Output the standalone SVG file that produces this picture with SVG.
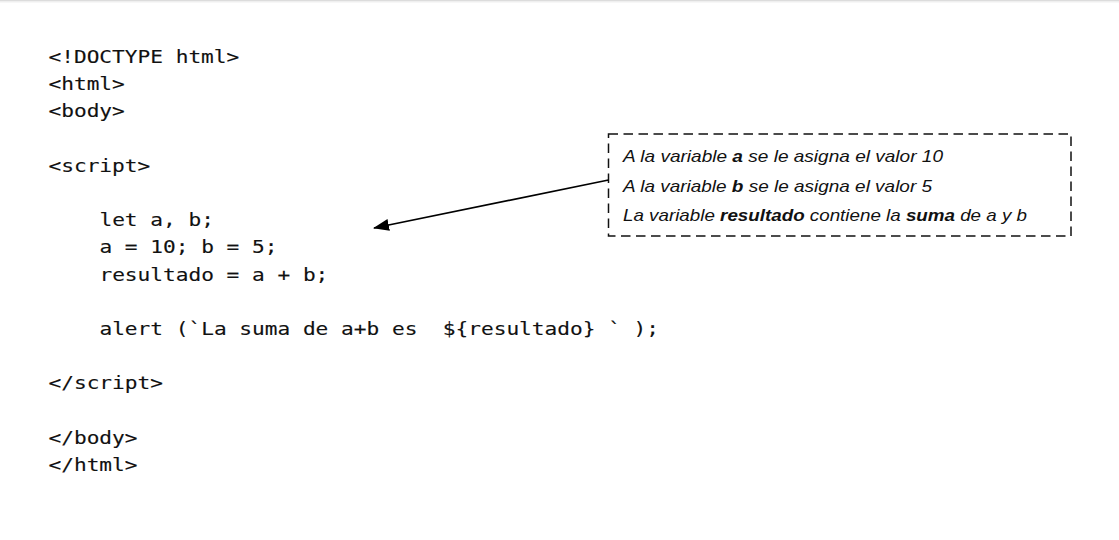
<svg xmlns="http://www.w3.org/2000/svg" width="1119" height="540" viewBox="0 0 1119 540">
<defs>
<style>
.code{font-family:"DejaVu Sans Mono","Liberation Mono",monospace;font-size:17.5px;fill:#111;stroke:#111;stroke-width:0.12px;}
.note{font-family:"Liberation Sans","Open Sans",sans-serif;font-size:17px;font-style:italic;fill:#111;}
.note .b{font-weight:bold;}
</style>
<marker id="ah" markerWidth="16" markerHeight="12" refX="15" refY="6" orient="auto" markerUnits="userSpaceOnUse">
<path d="M0,0 L16,6 L0,12 Z" fill="#000"/>
</marker>
</defs>
<rect x="0" y="0" width="1119" height="540" fill="#fff"/>
<rect x="0" y="0" width="1119" height="1" fill="#dcdcdc"/>
<rect x="0" y="1" width="1119" height="1.5" fill="#efefef"/>
<g id="code" transform="translate(48.5,0) scale(1.2081,1)">
<text class="code" x="0" y="63">&lt;!DOCTYPE html&gt;</text>
<text class="code" x="0" y="90.2">&lt;html&gt;</text>
<text class="code" x="0" y="117.4">&lt;body&gt;</text>
<text class="code" x="0" y="171.8">&lt;script&gt;</text>
<text class="code" x="42.15" y="226.2">let a, b;</text>
<text class="code" x="42.15" y="253.4">a = 10; b = 5;</text>
<text class="code" x="42.15" y="280.6">resultado = a + b;</text>
<text class="code" x="42.15" y="335" xml:space="preserve">alert (`La suma de a+b es  ${resultado} ` );</text>
<text class="code" x="0" y="389.4">&lt;/script&gt;</text>
<text class="code" x="0" y="443.8">&lt;/body&gt;</text>
<text class="code" x="0" y="471">&lt;/html&gt;</text>
</g>
<g id="note">
<rect x="608.5" y="134" width="462.5" height="102" fill="none" stroke="#111" stroke-width="1.5" stroke-dasharray="9.5 5.5"/>
<text class="note" x="623" y="162.3" textLength="320" lengthAdjust="spacingAndGlyphs">A la variable <tspan class="b">a</tspan> se le asigna el valor 10</text>
<text class="note" x="623" y="191.7" textLength="309" lengthAdjust="spacingAndGlyphs">A la variable <tspan class="b">b</tspan> se le asigna el valor 5</text>
<text class="note" x="623" y="221" textLength="404" lengthAdjust="spacingAndGlyphs">La variable <tspan class="b">resultado</tspan> contiene la <tspan class="b">suma</tspan> de a y b</text>
</g>
<g id="connectors">
<line x1="608.5" y1="180" x2="374" y2="228" stroke="#000" stroke-width="1.6" marker-end="url(#ah)"/>
</g>
</svg>
